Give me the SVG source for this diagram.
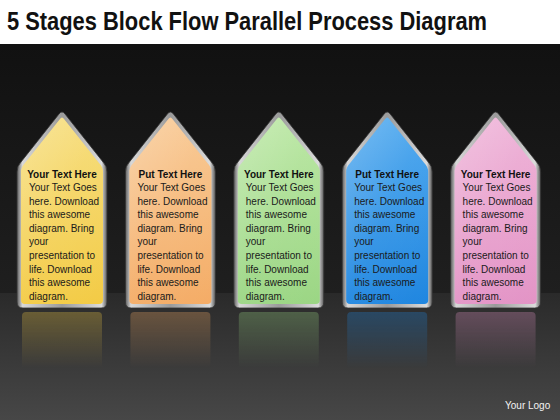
<svg xmlns="http://www.w3.org/2000/svg" xmlns:xlink="http://www.w3.org/1999/xlink" width="560" height="420" viewBox="0 0 560 420">
<style>
.title{font-family:"Liberation Sans",Arial,sans-serif;font-weight:bold;font-size:25px;fill:#111}
.hd{font-family:"Liberation Sans",Arial,sans-serif;font-weight:bold;font-size:10px;fill:#111;text-anchor:middle}
.bd{font-family:"Liberation Sans",Arial,sans-serif;font-size:10px;fill:#1a1a1a}
.logo{font-family:"Liberation Sans",Arial,sans-serif;font-size:10px;fill:#f2f2f2}
</style>
<defs>
<linearGradient id="bgTop" x1="0" y1="0" x2="0" y2="1">
<stop offset="0" stop-color="#111"/><stop offset="1" stop-color="#1f1f1f"/>
</linearGradient>
<linearGradient id="bgFloor" x1="0" y1="0" x2="0" y2="1">
<stop offset="0" stop-color="#2a2a2a"/><stop offset="1" stop-color="#474747"/>
</linearGradient>
<linearGradient id="silver" x1="0" y1="0" x2="1" y2="0">
<stop offset="0" stop-color="#5e5e5e"/><stop offset="0.06" stop-color="#d8d8d8"/><stop offset="0.5" stop-color="#9a9a9a"/><stop offset="0.94" stop-color="#dcdcdc"/><stop offset="1" stop-color="#5a5a5a"/>
</linearGradient>
<linearGradient id="gY" x1="0" y1="0" x2="0" y2="1"><stop offset="0" stop-color="#f6dc78"/><stop offset="1" stop-color="#f3cb45"/></linearGradient>
<linearGradient id="gO" x1="0" y1="0" x2="0" y2="1"><stop offset="0" stop-color="#f8c790"/><stop offset="1" stop-color="#f4ac66"/></linearGradient>
<linearGradient id="gG" x1="0" y1="0" x2="0" y2="1"><stop offset="0" stop-color="#b8e6a0"/><stop offset="1" stop-color="#9bd684"/></linearGradient>
<linearGradient id="gB" x1="0" y1="0" x2="0" y2="1"><stop offset="0" stop-color="#4aa6ee"/><stop offset="1" stop-color="#1f86e0"/></linearGradient>
<linearGradient id="gP" x1="0" y1="0" x2="0" y2="1"><stop offset="0" stop-color="#eeb0d6"/><stop offset="1" stop-color="#e394c6"/></linearGradient>
<linearGradient id="fade" x1="0" y1="0" x2="0" y2="1"><stop offset="0" stop-color="#fff" stop-opacity="0.3"/><stop offset="1" stop-color="#fff" stop-opacity="0"/></linearGradient>
<mask id="rmask" maskUnits="userSpaceOnUse" x="0" y="300" width="560" height="100"><rect x="0" y="312" width="560" height="56" fill="url(#fade)"/></mask>
<linearGradient id="gloss" x1="0" y1="0" x2="1" y2="1"><stop offset="0" stop-color="#fff" stop-opacity="0.25"/><stop offset="0.5" stop-color="#fff" stop-opacity="0.05"/><stop offset="1" stop-color="#fff" stop-opacity="0"/></linearGradient>
<path id="outer" d="M-45,172 Q-45,166 -41,162 L-3,114 Q0,110 3,114 L41,162 Q45,166 45,172 L45,302 Q45,308 39,308 L-39,308 Q-45,308 -45,302 Z"/>
<path id="inner" d="M-41,172 Q-41,167 -37,163 L-2,119 Q0,116 2,119 L37,163 Q41,167 41,172 L41,300 Q41,304 37,304 L-37,304 Q-41,304 -41,300 Z"/>
<g id="body">
<text class="bd" x="-33" y="191">Your Text Goes</text>
<text class="bd" x="-33" y="204.6">here. Download</text>
<text class="bd" x="-33" y="218.2">this awesome</text>
<text class="bd" x="-33" y="231.8">diagram. Bring</text>
<text class="bd" x="-33" y="245.4">your</text>
<text class="bd" x="-33" y="259">presentation to</text>
<text class="bd" x="-33" y="272.6">life. Download</text>
<text class="bd" x="-33" y="286.2">this awesome</text>
<text class="bd" x="-33" y="299.8">diagram.</text>
</g>
</defs>
<rect x="0" y="0" width="560" height="44" fill="#fff"/>
<rect x="0" y="44" width="560" height="249" fill="url(#bgTop)"/>
<rect x="0" y="293" width="560" height="127" fill="url(#bgFloor)"/>
<text class="title" x="7" y="30" textLength="480" lengthAdjust="spacingAndGlyphs">5 Stages Block Flow Parallel Process Diagram</text>
<g id="reflections" mask="url(#rmask)">
<rect x="22" y="312" width="80" height="60" rx="4" fill="#f3cb45"/>
<rect x="130.4" y="312" width="80" height="60" rx="4" fill="#f4ac66"/>
<rect x="238.8" y="312" width="80" height="60" rx="4" fill="#9bd684"/>
<rect x="347.2" y="312" width="80" height="60" rx="4" fill="#1f86e0"/>
<rect x="455.6" y="312" width="80" height="60" rx="4" fill="#e394c6"/>
</g>
<g id="connectors"></g>
<g id="stage1" transform="translate(62,0)">
<use href="#outer" fill="url(#silver)" stroke="#333" stroke-width="0.8"/>
<use href="#inner" fill="url(#gY)"/>
<use href="#inner" fill="url(#gloss)"/>
<text class="hd" x="0" y="178">Your Text Here</text>
<use href="#body"/>
</g>
<g id="stage2" transform="translate(170.4,0)">
<use href="#outer" fill="url(#silver)" stroke="#333" stroke-width="0.8"/>
<use href="#inner" fill="url(#gO)"/>
<use href="#inner" fill="url(#gloss)"/>
<text class="hd" x="0" y="178">Put Text Here</text>
<use href="#body"/>
</g>
<g id="stage3" transform="translate(278.8,0)">
<use href="#outer" fill="url(#silver)" stroke="#333" stroke-width="0.8"/>
<use href="#inner" fill="url(#gG)"/>
<use href="#inner" fill="url(#gloss)"/>
<text class="hd" x="0" y="178">Your Text Here</text>
<use href="#body"/>
</g>
<g id="stage4" transform="translate(387.2,0)">
<use href="#outer" fill="url(#silver)" stroke="#333" stroke-width="0.8"/>
<use href="#inner" fill="url(#gB)"/>
<use href="#inner" fill="url(#gloss)"/>
<text class="hd" x="0" y="178">Put Text Here</text>
<use href="#body"/>
</g>
<g id="stage5" transform="translate(495.6,0)">
<use href="#outer" fill="url(#silver)" stroke="#333" stroke-width="0.8"/>
<use href="#inner" fill="url(#gP)"/>
<use href="#inner" fill="url(#gloss)"/>
<text class="hd" x="0" y="178">Your Text Here</text>
<use href="#body"/>
</g>
<text class="logo" x="505" y="409">Your Logo</text>
</svg>
